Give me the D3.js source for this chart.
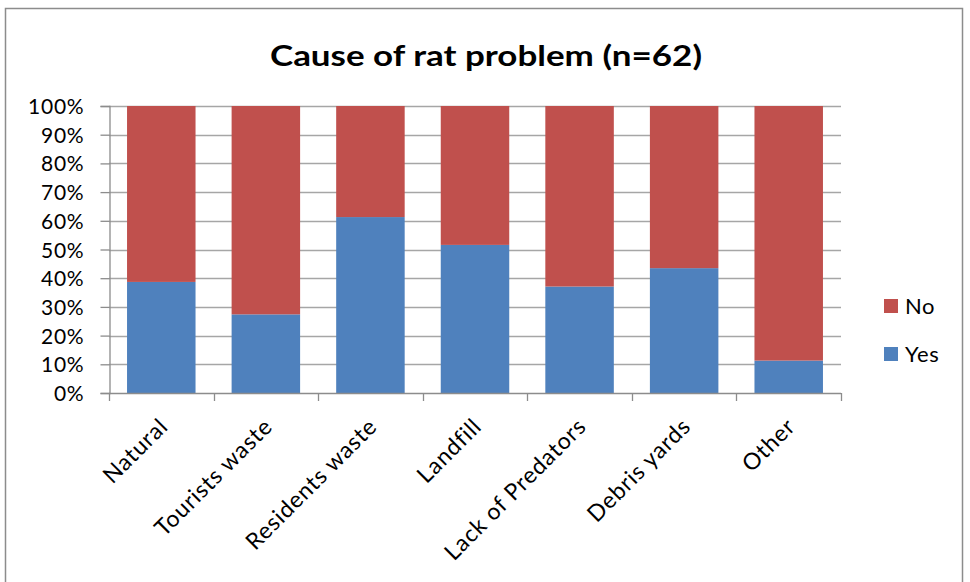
<!DOCTYPE html>
<html><head><meta charset="utf-8">
<script src="https://cdn.jsdelivr.net/npm/d3@7"></script>
<style>body{margin:0;background:#fff}svg{display:block}</style>
</head><body>
<svg id="c" width="970" height="582"></svg>
<script>
const categories = ["Natural","Tourists waste","Residents waste","Landfill","Lack of Predators","Debris yards","Other"];
const yesValues = [38.7, 27.4, 61.3, 51.6, 37.1, 43.5, 11.3];
const noValues  = [61.3, 72.6, 38.7, 48.4, 62.9, 56.5, 88.7];
const seriesNames = ["Yes","No"];
const yTicks = [0,10,20,30,40,50,60,70,80,90,100];
const titleText = "Cause of rat problem (n=62)";

const colors = {Yes:"#4F81BD", No:"#C0504D"};
const font = "Lato, 'Open Sans', sans-serif";
const svg = d3.select("#c");
const m = {left:109, right:841, top:106, bottom:393};

svg.append("rect").attr("x",5.5).attr("y",8.5).attr("width",957).attr("height",620)
  .attr("fill","#fff").attr("stroke","#8c8c8c").attr("stroke-width",1.5);

svg.append("text").attr("x",486).attr("y",66).attr("text-anchor","middle")
  .attr("font-family",font).attr("font-weight","bold").attr("font-size",28)
  .attr("textLength",432).attr("lengthAdjust","spacingAndGlyphs")
  .text(titleText);

const x = d3.scaleBand().domain(categories).range([m.left,m.right]).paddingInner(0.345).paddingOuter(0.1725);
const xb = d3.scaleBand().domain(categories).range([m.left,m.right]);
const y = d3.scaleLinear().domain([0,100]).range([m.bottom,m.top]);

// gridlines
svg.append("g").selectAll("line").data(yTicks.filter(d=>d>0)).join("line")
  .attr("x1",m.left).attr("x2",m.right).attr("y1",d=>Math.round(y(d))+0.5).attr("y2",d=>Math.round(y(d))+0.5)
  .attr("stroke","#a6a6a6").attr("stroke-width",1.3);

// stacked bars
const rows = categories.map((c,i)=>({cat:c, Yes:yesValues[i], No:noValues[i]}));
const stack = d3.stack().keys(seriesNames).offset(d3.stackOffsetExpand)(rows);
svg.append("g").selectAll("g").data(stack).join("g").attr("fill",d=>colors[d.key])
  .selectAll("rect").data(d=>d).join("rect")
  .attr("x",d=>x(d.data.cat)).attr("width",x.bandwidth())
  .attr("y",d=>y(d[1]*100)).attr("height",d=>y(d[0]*100)-y(d[1]*100));

// y axis
const yAxis = d3.axisLeft(y).tickValues(yTicks).tickFormat(d=>d+"%").tickSize(9).tickPadding(16);
const gy = svg.append("g").attr("transform",`translate(${m.left+0.5},0)`).call(yAxis);
gy.select(".domain").attr("stroke","#8c8c8c").attr("stroke-width",1.3);
gy.selectAll(".tick line").attr("stroke","#8c8c8c").attr("stroke-width",1.3);
gy.selectAll(".tick text").attr("font-family",font).attr("font-size",21).attr("letter-spacing",0.8)
  .attr("fill","#000").attr("dy","0.36em");

// x axis
const bounds = categories.map(c=>xb(c)).concat([m.right]);
svg.append("line").attr("x1",m.left).attr("x2",m.right).attr("y1",m.bottom+0.5).attr("y2",m.bottom+0.5)
  .attr("stroke","#8c8c8c").attr("stroke-width",1.3);
svg.append("g").selectAll("line").data(bounds).join("line")
  .attr("x1",d=>Math.round(d)+0.5).attr("x2",d=>Math.round(d)+0.5).attr("y1",m.bottom).attr("y2",m.bottom+8)
  .attr("stroke","#8c8c8c").attr("stroke-width",1.3);
svg.append("g").selectAll("text").data(categories).join("text")
  .attr("transform",d=>`translate(${xb(d)+xb.bandwidth()/2+8},${m.bottom+35}) rotate(-45)`)
  .attr("text-anchor","end").attr("letter-spacing",0.8)
  .attr("font-family",font).attr("font-size",23).attr("fill","#000").text(d=>d);

// legend
const legend = [{k:"No",y:299},{k:"Yes",y:347}];
const lg = svg.append("g").selectAll("g").data(legend).join("g").attr("transform",d=>`translate(884,${d.y})`);
lg.append("rect").attr("width",14).attr("height",14).attr("fill",d=>colors[d.k]);
lg.append("text").attr("x",21).attr("y",7).attr("dy","0.36em").attr("font-family",font).attr("font-size",22)
  .attr("letter-spacing",0.6).attr("fill","#000").text(d=>d.k);
</script>
</body></html>
